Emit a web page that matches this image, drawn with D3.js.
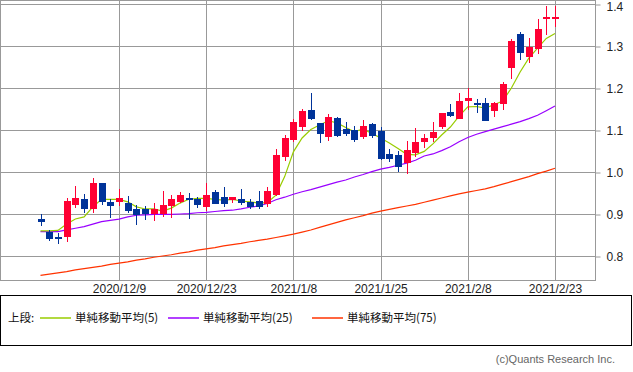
<!DOCTYPE html>
<html>
<head>
<meta charset="utf-8">
<script src="https://cdn.jsdelivr.net/npm/d3@7"></script>
<style>
    body { margin: 0; background: #fff; }
    svg { display: block; }
    .axis text { font-family: 'Liberation Sans', Arial, sans-serif; font-size: 12px; fill: #222; }
    .legend text { font-family: 'Noto Sans CJK JP', sans-serif; font-size: 11.5px; fill: #111; }
</style>
</head>
<body>
<svg id="chart"></svg>
<script>
    'use strict';

    const dates = [
        '2020/11/25', '2020/11/27', '2020/11/30', '2020/12/1', '2020/12/2', '2020/12/3', '2020/12/4', '2020/12/7', '2020/12/8', '2020/12/9',
        '2020/12/10', '2020/12/11', '2020/12/14', '2020/12/15', '2020/12/16', '2020/12/17', '2020/12/18', '2020/12/21', '2020/12/22', '2020/12/23',
        '2020/12/24', '2020/12/28', '2020/12/29', '2020/12/30', '2020/12/31', '2021/1/4', '2021/1/5', '2021/1/6', '2021/1/7', '2021/1/8',
        '2021/1/11', '2021/1/12', '2021/1/13', '2021/1/14', '2021/1/15', '2021/1/19', '2021/1/20', '2021/1/21', '2021/1/22', '2021/1/25',
        '2021/1/26', '2021/1/27', '2021/1/28', '2021/1/29', '2021/2/1', '2021/2/2', '2021/2/3', '2021/2/4', '2021/2/5', '2021/2/8',
        '2021/2/9', '2021/2/10', '2021/2/11', '2021/2/12', '2021/2/16', '2021/2/17', '2021/2/18', '2021/2/19', '2021/2/22', '2021/2/23'
    ];

    const open = [
        0.888, 0.857, 0.845, 0.846, 0.922, 0.936, 0.911, 0.973, 0.928, 0.929,
        0.927, 0.911, 0.911, 0.900, 0.900, 0.920, 0.929, 0.938, 0.936, 0.917,
        0.953, 0.940, 0.933, 0.936, 0.928, 0.931, 0.924, 0.945, 1.036, 1.076,
        1.106, 1.148, 1.116, 1.084, 1.129, 1.102, 1.100, 1.084, 1.115, 1.098,
        1.043, 1.041, 1.022, 1.045, 1.071, 1.082, 1.106, 1.142, 1.126, 1.169,
        1.165, 1.164, 1.146, 1.162, 1.248, 1.329, 1.273, 1.292, 1.364, 1.364
    ];
    const high = [
        0.900, 0.862, 0.855, 0.937, 0.967, 0.947, 0.985, 0.975, 0.935, 0.960,
        0.943, 0.921, 0.919, 0.927, 0.955, 0.945, 0.952, 0.951, 0.941, 0.975,
        0.957, 0.964, 0.941, 0.959, 0.935, 0.955, 0.964, 1.055, 1.088, 1.126,
        1.149, 1.189, 1.117, 1.138, 1.130, 1.118, 1.110, 1.124, 1.117, 1.108,
        1.055, 1.050, 1.074, 1.104, 1.090, 1.118, 1.140, 1.161, 1.187, 1.201,
        1.173, 1.176, 1.167, 1.215, 1.317, 1.334, 1.320, 1.364, 1.395, 1.395
    ];
    const low = [
        0.871, 0.836, 0.829, 0.834, 0.914, 0.902, 0.902, 0.921, 0.891, 0.920,
        0.902, 0.874, 0.886, 0.883, 0.894, 0.891, 0.926, 0.888, 0.915, 0.907,
        0.924, 0.917, 0.927, 0.921, 0.911, 0.912, 0.916, 0.943, 1.026, 1.072,
        1.098, 1.124, 1.070, 1.074, 1.084, 1.086, 1.072, 1.078, 1.080, 1.029,
        1.025, 1.001, 0.995, 1.036, 1.058, 1.072, 1.102, 1.130, 1.126, 1.148,
        1.140, 1.122, 1.132, 1.148, 1.221, 1.267, 1.259, 1.281, 1.326, 1.346
    ];
    const close = [
        0.882, 0.840, 0.841, 0.931, 0.938, 0.911, 0.973, 0.929, 0.920, 0.937,
        0.906, 0.897, 0.900, 0.911, 0.921, 0.936, 0.945, 0.935, 0.921, 0.945,
        0.925, 0.923, 0.940, 0.926, 0.916, 0.917, 0.955, 1.041, 1.080, 1.118,
        1.145, 1.126, 1.091, 1.130, 1.086, 1.091, 1.076, 1.110, 1.086, 1.031,
        1.031, 1.013, 1.052, 1.071, 1.082, 1.095, 1.140, 1.133, 1.169, 1.176,
        1.160, 1.122, 1.165, 1.210, 1.313, 1.283, 1.298, 1.341, 1.368, 1.368
    ];

    const ma5 = [
        0.860, 0.860, 0.861, 0.876, 0.888, 0.893, 0.917, 0.935, 0.935, 0.935,
        0.929, 0.917, 0.912, 0.912, 0.907, 0.914, 0.926, 0.935, 0.937, 0.937,
        0.935, 0.933, 0.935, 0.931, 0.929, 0.926, 0.927, 0.945, 0.989, 1.048,
        1.081, 1.101, 1.112, 1.122, 1.117, 1.106, 1.096, 1.102, 1.092, 1.081,
        1.069, 1.056, 1.042, 1.041, 1.049, 1.067, 1.088, 1.107, 1.133, 1.155,
        1.156, 1.152, 1.160, 1.169, 1.200, 1.238, 1.271, 1.295, 1.318, 1.330
    ];
    const ma25 = [
        0.858, 0.858, 0.858, 0.862, 0.866, 0.870, 0.876, 0.882, 0.885, 0.888,
        0.893, 0.897, 0.898, 0.899, 0.899, 0.899, 0.900, 0.901, 0.903, 0.904,
        0.906, 0.908, 0.909, 0.912, 0.916, 0.919, 0.925, 0.934, 0.940, 0.947,
        0.953, 0.958, 0.964, 0.970, 0.976, 0.981, 0.988, 0.994, 1.001, 1.007,
        1.011, 1.016, 1.021, 1.028, 1.038, 1.043, 1.051, 1.060, 1.072, 1.082,
        1.090, 1.096, 1.102, 1.108, 1.114, 1.120, 1.127, 1.135, 1.146, 1.157
    ];
    const ma75 = [
        0.754, 0.757, 0.760, 0.763, 0.767, 0.770, 0.773, 0.776, 0.780, 0.783,
        0.786, 0.790, 0.793, 0.797, 0.800, 0.803, 0.807, 0.810, 0.814, 0.817,
        0.820, 0.824, 0.827, 0.830, 0.834, 0.837, 0.840, 0.844, 0.848, 0.852,
        0.857, 0.862, 0.868, 0.874, 0.880, 0.886, 0.891, 0.896, 0.902, 0.907,
        0.911, 0.915, 0.919, 0.923, 0.928, 0.933, 0.938, 0.943, 0.948, 0.952,
        0.956, 0.960, 0.965, 0.971, 0.977, 0.983, 0.989, 0.996, 1.002, 1.009
    ];

    const xTicks = ['2020/12/9', '2020/12/23', '2021/1/8', '2021/1/25', '2021/2/8', '2021/2/23'];
    const yTicks = [0.8, 0.9, 1.0, 1.1, 1.2, 1.3, 1.4];

    const legendItems = [
        { label: '単純移動平均(5)', color: '#99cc00' },
        { label: '単純移動平均(25)', color: '#9900ff' },
        { label: '単純移動平均(75)', color: '#ff3300' }
    ];

    const width = 633;
    const height = 372;
    const plot = { left: 0, top: 0, right: 595, bottom: 280 };

    const svg = d3.select('#chart')
        .attr('width', width)
        .attr('height', height);

    const x = d3.scalePoint()
        .domain(dates)
        .range([40.5, 555]);

    const y = d3.scaleLinear()
        .domain([0.8, 1.4])
        .range([256, 4]);

    // grid
    const grid = svg.append('g')
        .attr('shape-rendering', 'crispEdges')
        .attr('stroke', '#999')
        .attr('stroke-width', 1);

    grid.selectAll('.hgrid')
        .data(yTicks)
        .enter().append('line')
            .attr('x1', plot.left)
            .attr('x2', plot.right)
            .attr('y1', (d) => Math.round(y(d)) + 0.5)
            .attr('y2', (d) => Math.round(y(d)) + 0.5);

    grid.selectAll('.vgrid')
        .data(xTicks)
        .enter().append('line')
            .attr('x1', (d) => Math.round(x(d)) + 0.5)
            .attr('x2', (d) => Math.round(x(d)) + 0.5)
            .attr('y1', plot.top)
            .attr('y2', plot.bottom);

    svg.append('rect')
        .attr('x', plot.left + 0.5)
        .attr('y', plot.top + 0.5)
        .attr('width', plot.right - plot.left)
        .attr('height', plot.bottom - plot.top)
        .attr('fill', 'none')
        .attr('stroke', '#999')
        .attr('shape-rendering', 'crispEdges');

    // axes
    const yAxis = svg.append('g')
        .attr('class', 'axis')
        .attr('transform', `translate(${plot.right + 0.5}, 0.5)`)
        .call(d3.axisRight(y).tickValues(yTicks).tickFormat(d3.format('.1f')).tickSize(5).tickPadding(6));
    yAxis.select('.domain').remove();
    yAxis.selectAll('line').attr('stroke', '#999');
    // top label sits right at the edge, nudge it down a little
    yAxis.selectAll('.tick text')
        .filter((d) => d === 1.4)
        .attr('dy', '0.5em');

    const xAxis = svg.append('g')
        .attr('class', 'axis')
        .attr('transform', `translate(0, ${plot.bottom})`)
        .call(d3.axisBottom(x).tickValues(xTicks).tickSize(0).tickPadding(4));
    xAxis.select('.domain').remove();

    // moving averages
    const line = (vals) => d3.line()
        .x((d, i) => x(dates[i]))
        .y((d) => y(d))(vals);

    svg.append('g')
        .selectAll('path')
        .data([ma75, ma25, ma5])
        .enter().append('path')
            .attr('d', (d) => line(d))
            .attr('fill', 'none')
            .attr('stroke', (d, i) => ['#ff3300', '#9900ff', '#99cc00'][i])
            .attr('stroke-width', 1.2);

    // candles
    const bars = d3.range(dates.length);
    const candle = svg.append('g')
        .attr('shape-rendering', 'crispEdges')
        .selectAll('.candle')
        .data(bars)
        .enter().append('g')
            .attr('class', 'candle')
            .attr('fill', (i) => close[i] >= open[i] ? '#ff0033' : '#003399');

    candle.append('rect')
        .attr('x', (i) => Math.round(x(dates[i])))
        .attr('y', (i) => y(high[i]))
        .attr('width', 1.4)
        .attr('height', (i) => y(low[i]) - y(high[i]));

    candle.append('rect')
        .attr('x', (i) => Math.round(x(dates[i])) - 3)
        .attr('y', (i) => y(Math.max(open[i], close[i])))
        .attr('width', 7)
        .attr('height', (i) => Math.max(1.5, Math.abs(y(open[i]) - y(close[i]))));

    // legend
    const legend = svg.append('g')
        .attr('class', 'legend');

    legend.append('rect')
        .attr('x', 0.5)
        .attr('y', 295.5)
        .attr('width', 631)
        .attr('height', 50)
        .attr('fill', '#fff')
        .attr('stroke', '#000');

    legend.append('text')
        .attr('x', 8)
        .attr('y', 322)
        .text('上段:');

    const legendX = [40, 168, 312];
    const item = legend.selectAll('.item')
        .data(legendItems)
        .enter().append('g')
            .attr('class', 'item')
            .attr('transform', (d, i) => `translate(${legendX[i]}, 0)`);

    item.append('line')
        .attr('x1', 0)
        .attr('x2', 31)
        .attr('y1', 318)
        .attr('y2', 318)
        .attr('stroke', (d) => d.color)
        .attr('stroke-width', 1.5);

    item.append('text')
        .attr('x', 35)
        .attr('y', 322)
        .text((d) => d.label);

    svg.append('text')
        .attr('x', 615)
        .attr('y', 363)
        .attr('text-anchor', 'end')
        .attr('font-family', "'Liberation Sans', Arial, sans-serif")
        .attr('font-size', 11)
        .attr('fill', '#666')
        .text('(c)Quants Research Inc.');
</script>
</body>
</html>
